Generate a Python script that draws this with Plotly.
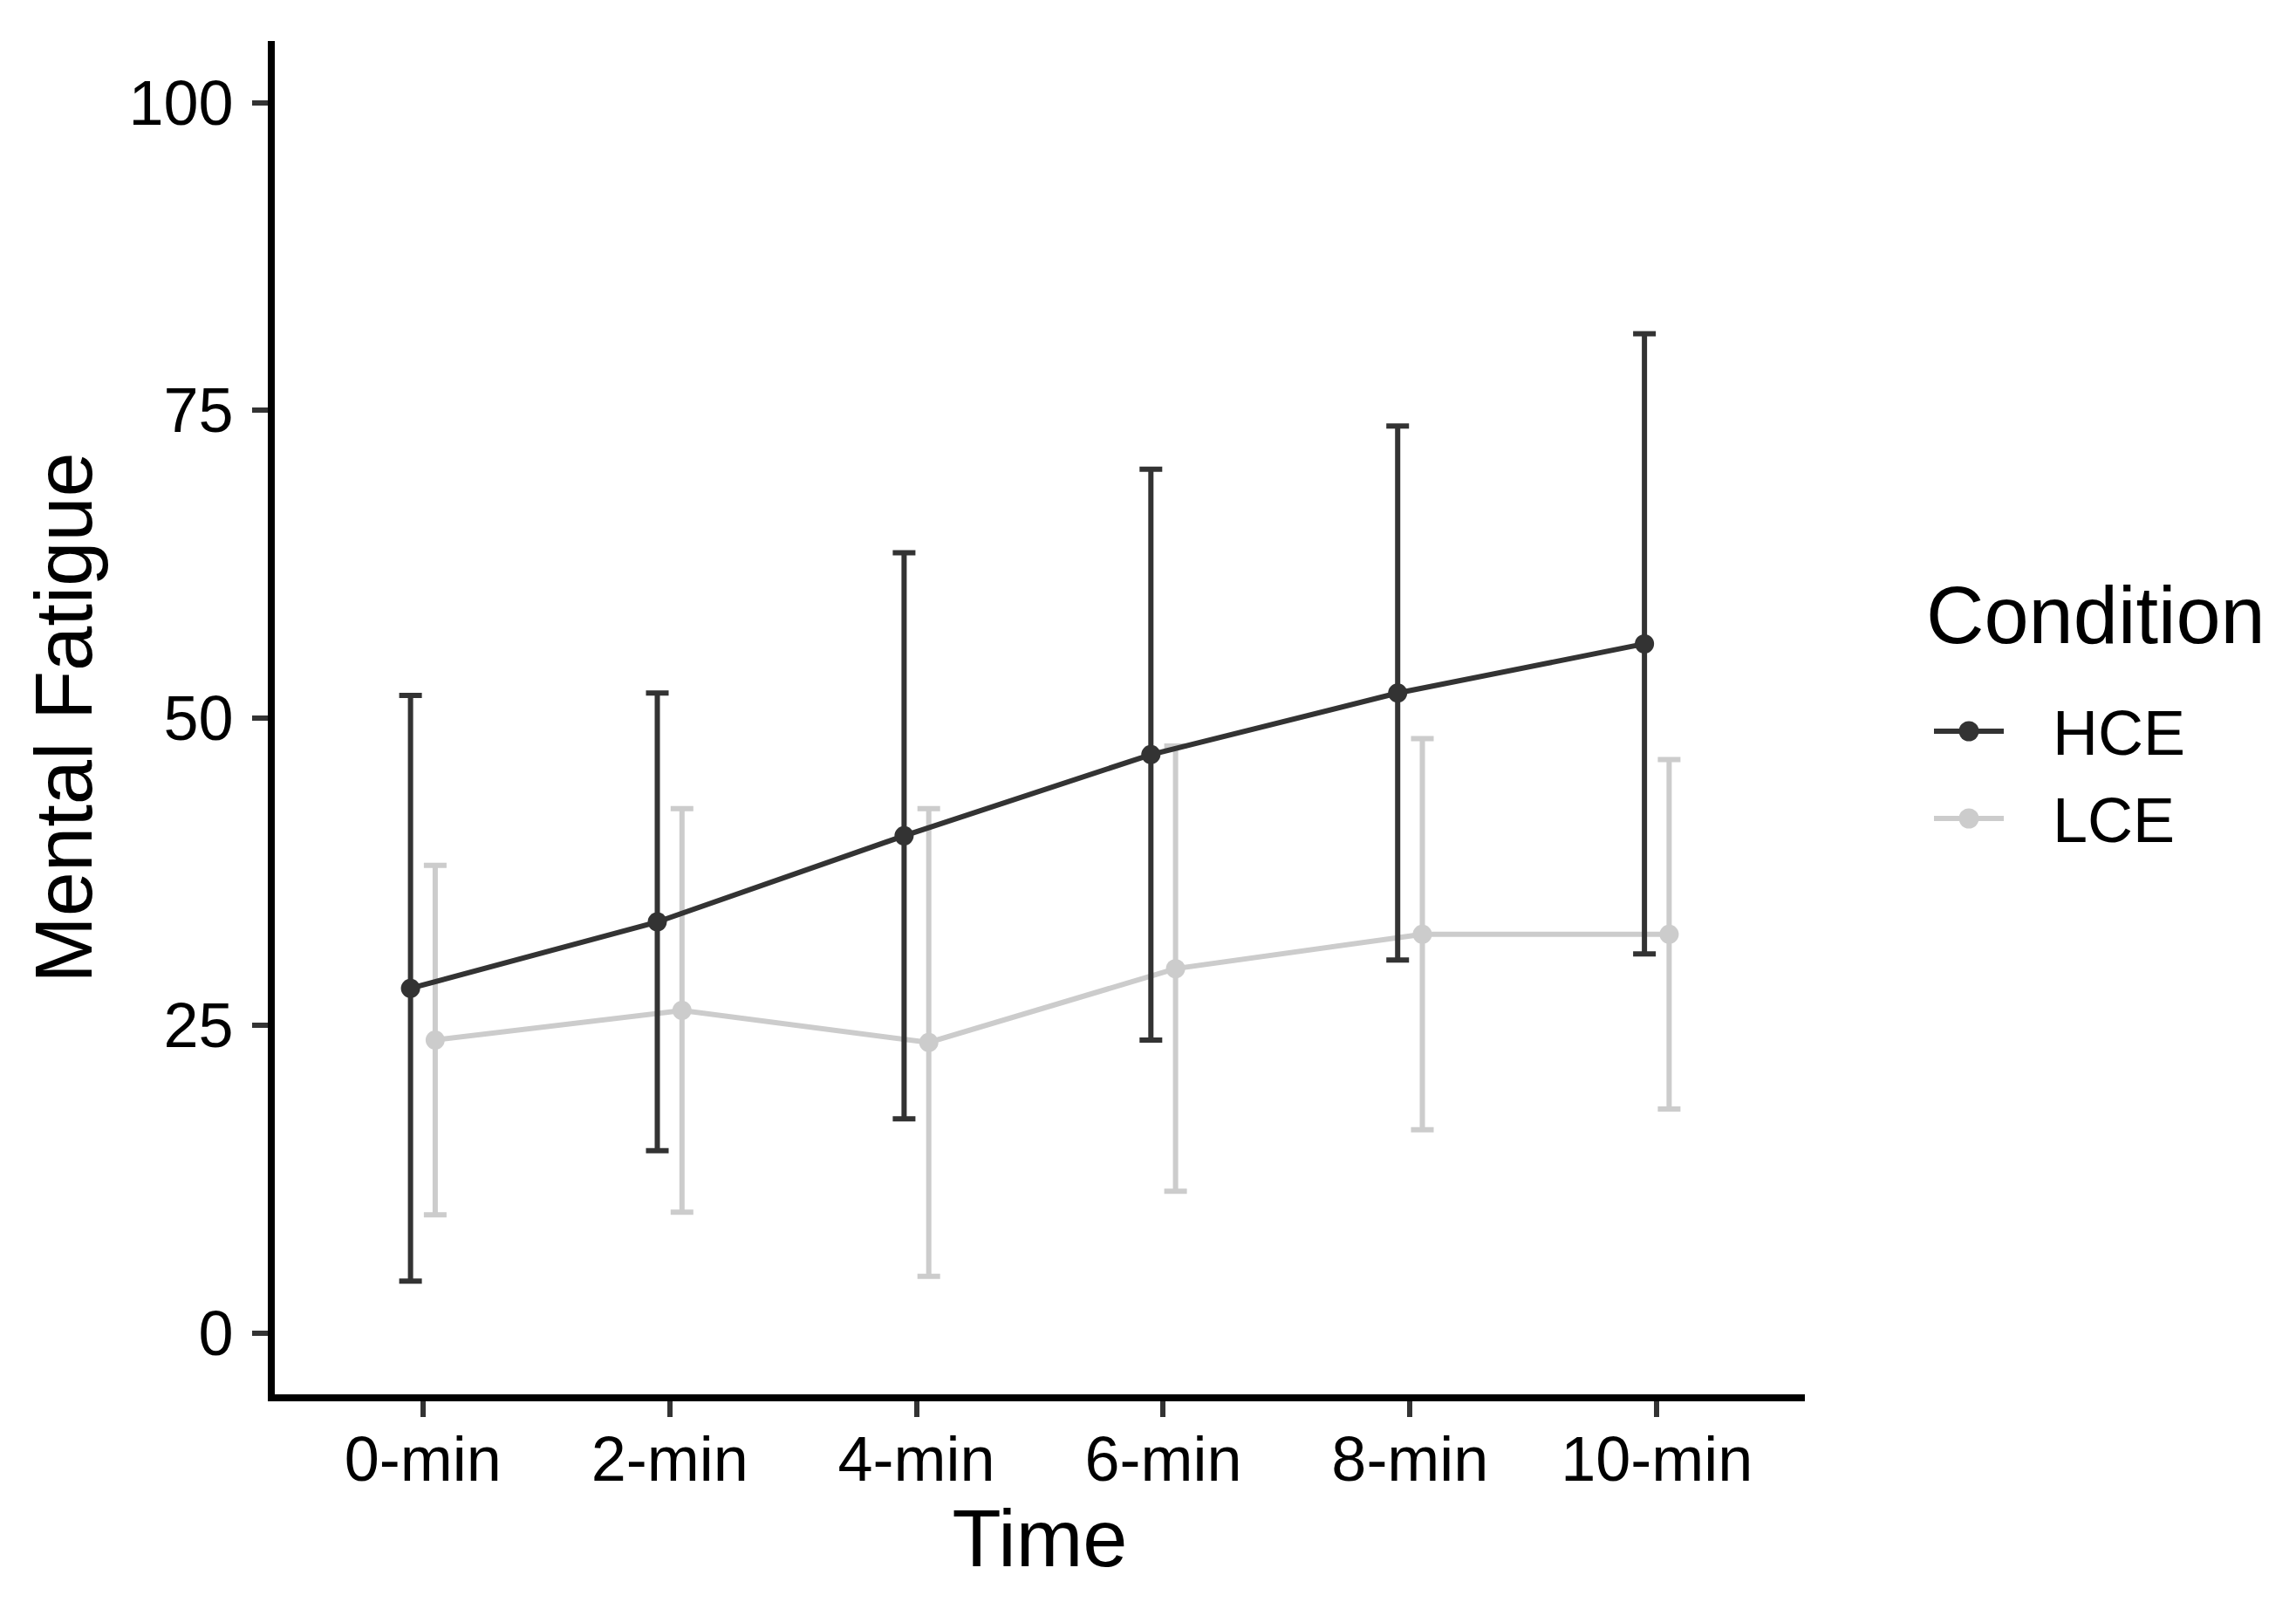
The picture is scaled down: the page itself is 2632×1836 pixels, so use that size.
import plotly.graph_objects as go

# ---- data ----
time_labels = ["0-min", "2-min", "4-min", "6-min", "8-min", "10-min"]
hce_mean = [28.0, 33.4, 40.4, 47.0, 52.0, 56.0]
hce_sd = [23.8, 18.6, 23.0, 23.2, 21.7, 25.2]
lce_mean = [23.8, 26.2, 23.6, 29.6, 32.4, 32.4]
lce_sd = [14.2, 16.4, 19.0, 18.1, 15.9, 14.2]
y_ticks = [0, 25, 50, 75, 100]
conditions = ["HCE", "LCE"]

dodge = 0.05
idx = list(range(len(time_labels)))
hce_x = [i - dodge for i in idx]
lce_x = [i + dodge for i in idx]

HCE_COL = "#333333"
LCE_COL = "#cccccc"
FONT = "Liberation Sans, Arial, sans-serif"

W, H = 2624, 1828
ML, MR, MT, MB = 307, 563, 39, 238
PW, PH = W - ML - MR, H - MT - MB


def px_x(px):
    return (px - ML) / PW


def px_y(py):
    return 1 - (py - MT) / PH


fig = go.Figure()

fig.add_trace(go.Scatter(
    x=lce_x, y=lce_mean, name="LCE", mode="lines+markers",
    line=dict(color=LCE_COL, width=6),
    marker=dict(color=LCE_COL, size=22),
    error_y=dict(type="data", array=lce_sd, color=LCE_COL, thickness=6, width=13),
    showlegend=False,
))
fig.add_trace(go.Scatter(
    x=hce_x, y=hce_mean, name="HCE", mode="lines+markers",
    line=dict(color=HCE_COL, width=6),
    marker=dict(color=HCE_COL, size=22),
    error_y=dict(type="data", array=hce_sd, color=HCE_COL, thickness=6, width=13),
    showlegend=False,
))

# ---- legend (drawn as a key beside the panel) ----
shapes = []
annotations = []
annotations.append(dict(
    text="Condition", xref="paper", yref="paper",
    x=px_x(2198), y=px_y(697), xanchor="left", yanchor="middle",
    showarrow=False, font=dict(size=92, family=FONT, color="black"),
))
key_rows = [(conditions[0], HCE_COL, 830), (conditions[1], LCE_COL, 930)]
for name, col, ypx in key_rows:
    yp = px_y(ypx)
    shapes.append(dict(
        type="line", xref="paper", yref="paper", xsizemode="pixel",
        xanchor=px_x(2249), x0=-40, x1=40, y0=yp, y1=yp,
        line=dict(color=col, width=6),
    ))
    shapes.append(dict(
        type="circle", xref="paper", yref="paper",
        xsizemode="pixel", ysizemode="pixel",
        xanchor=px_x(2249), yanchor=yp, x0=-11.5, x1=11.5, y0=-11.5, y1=11.5,
        fillcolor=col, line=dict(width=0),
    ))
    annotations.append(dict(
        text=name, xref="paper", yref="paper",
        x=px_x(2343), y=px_y(ypx + 2), xanchor="left", yanchor="middle",
        showarrow=False, font=dict(size=72, family=FONT, color="black"),
    ))

fig.update_layout(
    width=W, height=H,
    paper_bgcolor="white", plot_bgcolor="white",
    margin=dict(l=ML, r=MR, t=MT, b=MB, autoexpand=False),
    font=dict(family=FONT, color="black", size=71),
    showlegend=False,
    shapes=shapes,
    annotations=annotations,
    xaxis=dict(
        range=[-0.6, 5.6], tickmode="array", tickvals=idx, ticktext=time_labels,
        showgrid=False, zeroline=False,
        showline=True, linecolor="black", linewidth=8,
        ticks="outside", ticklen=18, tickwidth=6, tickcolor="#333333",
        ticklabelstandoff=-13,
        tickfont=dict(size=72, family=FONT, color="black"),
        title=dict(text="Time", font=dict(size=92, family=FONT, color="black"), standoff=8),
        automargin=False,
    ),
    yaxis=dict(
        range=[-5, 105], tickmode="array", tickvals=y_ticks,
        showgrid=False, zeroline=False,
        showline=True, linecolor="black", linewidth=8,
        ticks="outside", ticklen=18, tickwidth=6, tickcolor="#333333",
        ticklabelstandoff=7,
        tickfont=dict(size=72, family=FONT, color="black"),
        title=dict(text="Mental Fatigue", font=dict(size=92, family=FONT, color="black"), standoff=14),
        automargin=False,
    ),
)

fig.write_html("out.html")
